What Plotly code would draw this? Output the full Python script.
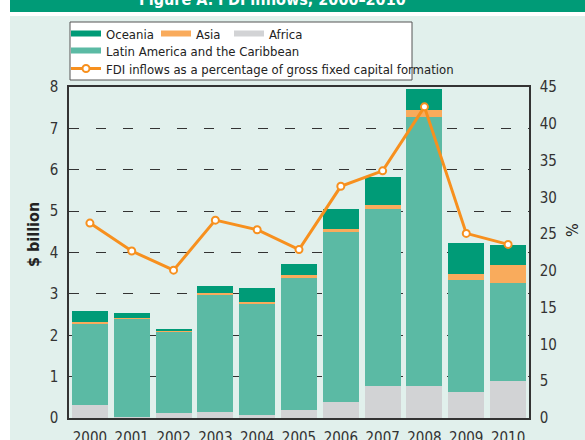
import plotly.graph_objects as go

years = ["2000", "2001", "2002", "2003", "2004", "2005", "2006", "2007", "2008", "2009", "2010"]
africa = [0.32, 0.02, 0.11, 0.14, 0.08, 0.20, 0.39, 0.78, 0.78, 0.64, 0.90]
latam = [1.96, 2.38, 1.98, 2.83, 2.68, 3.18, 4.11, 4.27, 6.49, 2.70, 2.36]
asia = [0.03, 0.02, 0.02, 0.05, 0.05, 0.08, 0.07, 0.10, 0.17, 0.14, 0.44]
oceania = [0.28, 0.12, 0.04, 0.17, 0.33, 0.26, 0.48, 0.67, 0.50, 0.75, 0.48]
fdi_pct = [26.5, 22.7, 20.1, 26.9, 25.6, 22.9, 31.5, 33.6, 42.3, 25.1, 23.6]

left_ticks = [0, 1, 2, 3, 4, 5, 6, 7, 8]
right_ticks = [0, 5, 10, 15, 20, 25, 30, 35, 40, 45]

C_OCE = "#009b77"
C_ASIA = "#f9ab5c"
C_AFR = "#d2d3d5"
C_LAT = "#5bbaa4"
C_LINE = "#f7901e"
MINT = "#e1f0ec"
FONT = "Liberation Sans Narrow, Arial Narrow, DejaVu Sans Condensed, Arial, sans-serif"

W, H = 585, 440
L, R, T, B = 69, 56, 87, 22
PW, PH = W - L - R, H - T - B


def px(x):
    return (x - L) / PW


def py(y):
    return (H - B - y) / PH


fig = go.Figure()

for name, vals, col in [("Africa", africa, C_AFR),
                        ("Latin America and the Caribbean", latam, C_LAT),
                        ("Asia", asia, C_ASIA),
                        ("Oceania", oceania, C_OCE)]:
    fig.add_trace(go.Bar(x=years, y=vals, name=name, marker=dict(color=col, line=dict(width=0)),
                         showlegend=False))

fig.add_trace(go.Scatter(x=years, y=fdi_pct, yaxis="y2", mode="lines+markers",
                         name="FDI inflows as a percentage of gross fixed capital formation",
                         line=dict(color=C_LINE, width=3),
                         marker=dict(symbol="circle", size=7, color="white",
                                     line=dict(color=C_LINE, width=2)),
                         legend="legend5"))

# legend entries (wide rectangle swatches)
for name, col, lg in [("Oceania", C_OCE, "legend"), ("Asia", C_ASIA, "legend2"),
                      ("Africa", C_AFR, "legend3"),
                      ("Latin America and the Caribbean", C_LAT, "legend4")]:
    fig.add_trace(go.Scatter(x=[None], y=[None], mode="lines", name=name,
                             line=dict(color=col, width=6), legend=lg))

lfont = dict(family=FONT, size=13, color="#222")


def leg(xpix, ypix):
    return dict(x=px(xpix), y=py(ypix), xanchor="left", yanchor="middle",
                bgcolor="rgba(0,0,0,0)", borderwidth=0, font=lfont,
                itemwidth=30, orientation="h")


fig.update_layout(
    width=W, height=H,
    margin=dict(l=L, r=R, t=T, b=B, pad=0, autoexpand=False),
    paper_bgcolor="white",
    plot_bgcolor=MINT,
    barmode="stack",
    bargap=0.14,
    font=dict(family=FONT, size=14, color="#333"),
    legend=leg(66, 33.5),
    legend2=leg(156, 33.5),
    legend3=leg(229, 33.5),
    legend4=leg(66, 50.5),
    legend5=leg(66, 68.5),
    xaxis=dict(range=[-0.5, 10.5], showline=True, linecolor="#333", linewidth=1.5,
               mirror=True, ticks="", tickfont=dict(size=15, color="#333"),
               ticklabelstandoff=5, showgrid=False, zeroline=False),
    yaxis=dict(range=[0, 8], tickvals=left_ticks, showline=True, linecolor="#333",
               linewidth=1.5, ticks="", showgrid=True, gridcolor="#333", gridwidth=1.3,
               griddash="10px,17px", zeroline=False, tickfont=dict(size=15, color="#333"),
               ticklabelstandoff=6),
    yaxis2=dict(range=[0, 45], tickvals=right_ticks, overlaying="y", side="right",
                showline=True, linecolor="#333", linewidth=1.5, ticks="", showgrid=False,
                zeroline=False, tickfont=dict(size=15, color="#333"), ticklabelstandoff=6),
)

fig.add_shape(type="rect", xref="paper", yref="paper", x0=px(10), x1=px(W), y0=py(H), y1=py(16),
              fillcolor=MINT, line=dict(width=0), layer="below")
fig.add_shape(type="rect", xref="paper", yref="paper", x0=px(10), x1=px(W), y0=py(12), y1=py(0),
              fillcolor="#009b77", line=dict(width=0), layer="below")
fig.add_shape(type="rect", xref="paper", yref="paper", x0=px(70), x1=px(412), y0=py(80), y1=py(22),
              fillcolor="white", line=dict(color="#555", width=1), layer="below")

fig.add_annotation(text="<b>Figure A. FDI inflows, 2000–2010</b>", xref="paper", yref="paper",
                   x=px(272), y=py(11), xanchor="center", yanchor="bottom", showarrow=False,
                   font=dict(family=FONT, size=16, color="white"))
fig.add_annotation(text="<b>$ billion</b>", xref="paper", yref="paper",
                   x=px(33), y=py(235), xanchor="center", yanchor="middle", showarrow=False,
                   textangle=-90, font=dict(family=FONT, size=16, color="#222"))
fig.add_annotation(text="%", xref="paper", yref="paper",
                   x=px(573), y=py(230), xanchor="center", yanchor="middle", showarrow=False,
                   textangle=-90, font=dict(family=FONT, size=16, color="#222"))

fig.write_html("out.html", config={"displayModeBar": False},
               post_script="document.body.style.margin='0';document.body.style.overflow='hidden';")
